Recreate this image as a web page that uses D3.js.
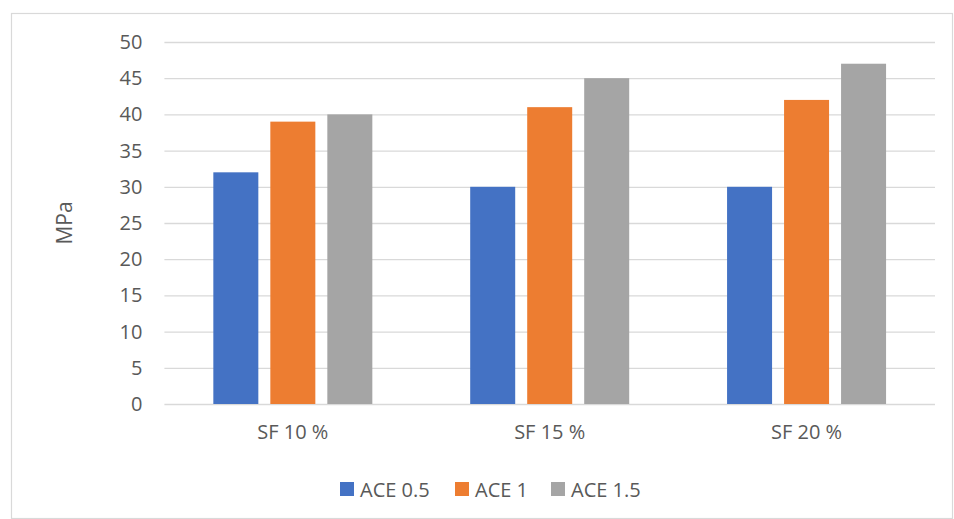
<!DOCTYPE html>
<html>
<head>
<meta charset="utf-8">
<script src="https://cdn.jsdelivr.net/npm/d3@7"></script>
<style>
  html, body { margin: 0; padding: 0; background: #fff; }
  svg { display: block; font-family: "Open Sans", "Noto Sans", sans-serif; }
</style>
</head>
<body>
<svg id="chart" width="954" height="519"></svg>
<script>
// Compressive strength by silica fume content and ACE dosage
const categories = ["SF 10 %", "SF 15 %", "SF 20 %"];
const seriesNames = ["ACE 0.5", "ACE 1", "ACE 1.5"];
const ace05 = [32, 30, 30];
const ace1 = [39, 41, 42];
const ace15 = [40, 45, 47];
const yTicks = [0, 5, 10, 15, 20, 25, 30, 35, 40, 45, 50];
const colors = ["#4472C4", "#ED7D31", "#A5A5A5"];

const seriesValues = [ace05, ace1, ace15];

const svg = d3.select("#chart");

// chart frame
svg.append("rect")
  .attr("x", 11.5).attr("y", 13.5)
  .attr("width", 941).attr("height", 505)
  .attr("fill", "#fff").attr("stroke", "#d9d9d9").attr("stroke-width", 1.2);

const plot = { left: 164.4, right: 935, top: 42, bottom: 404 };

const y = d3.scaleLinear().domain([0, 50]).range([plot.bottom, plot.top]);
const x0 = d3.scaleBand().domain(categories).range([plot.left, plot.right]);
const groupWidth = 171;
const x1 = d3.scaleBand().domain(seriesNames).range([0, groupWidth])
  .paddingInner(12 / 57).paddingOuter(6 / 57);

// gridlines and y labels
const yAxis = d3.axisLeft(y).tickValues(yTicks).tickSize(-(plot.right - plot.left)).tickPadding(22);
const gy = svg.append("g").attr("transform", `translate(${plot.left},0)`).call(yAxis);
gy.select(".domain").remove();
gy.selectAll(".tick line").attr("stroke", "#d9d9d9").attr("stroke-width", 1.3);
gy.selectAll(".tick text")
  .attr("fill", "#595959").attr("font-size", 20).attr("font-family", "\"Open Sans\", sans-serif");

// bars
const groups = svg.append("g").selectAll("g")
  .data(categories)
  .join("g")
  .attr("transform", c => `translate(${x0(c) + (x0.bandwidth() - groupWidth) / 2},0)`);

groups.selectAll("rect")
  .data((c, ci) => seriesNames.map((s, si) => ({ s, si, v: seriesValues[si][ci] })))
  .join("rect")
  .attr("x", d => x1(d.s))
  .attr("width", x1.bandwidth())
  .attr("y", d => y(d.v))
  .attr("height", d => y(0) - y(d.v))
  .attr("fill", d => colors[d.si]);

// category axis labels
const xAxis = d3.axisBottom(x0).tickSize(0).tickPadding(21);
const gx = svg.append("g").attr("transform", `translate(0,${plot.bottom})`).call(xAxis);
gx.select(".domain").remove();
gx.selectAll(".tick text")
  .attr("fill", "#595959").attr("font-size", 20).attr("font-family", "\"Open Sans\", sans-serif");

// y axis title
svg.append("text")
  .attr("transform", `translate(72,${(plot.top + plot.bottom) / 2}) rotate(-90)`)
  .attr("text-anchor", "middle")
  .attr("fill", "#595959").attr("font-size", 21)
  .text("MPa");

// legend
const legendX = [340, 455, 551];
const legend = svg.append("g").selectAll("g")
  .data(seriesNames)
  .join("g")
  .attr("transform", (d, i) => `translate(${legendX[i]},482)`);
legend.append("rect").attr("width", 14).attr("height", 14).attr("fill", (d, i) => colors[i]);
legend.append("text")
  .attr("x", 20).attr("y", 14.5)
  .attr("fill", "#595959").attr("font-size", 20)
  .text(d => d);
</script>
</body>
</html>
